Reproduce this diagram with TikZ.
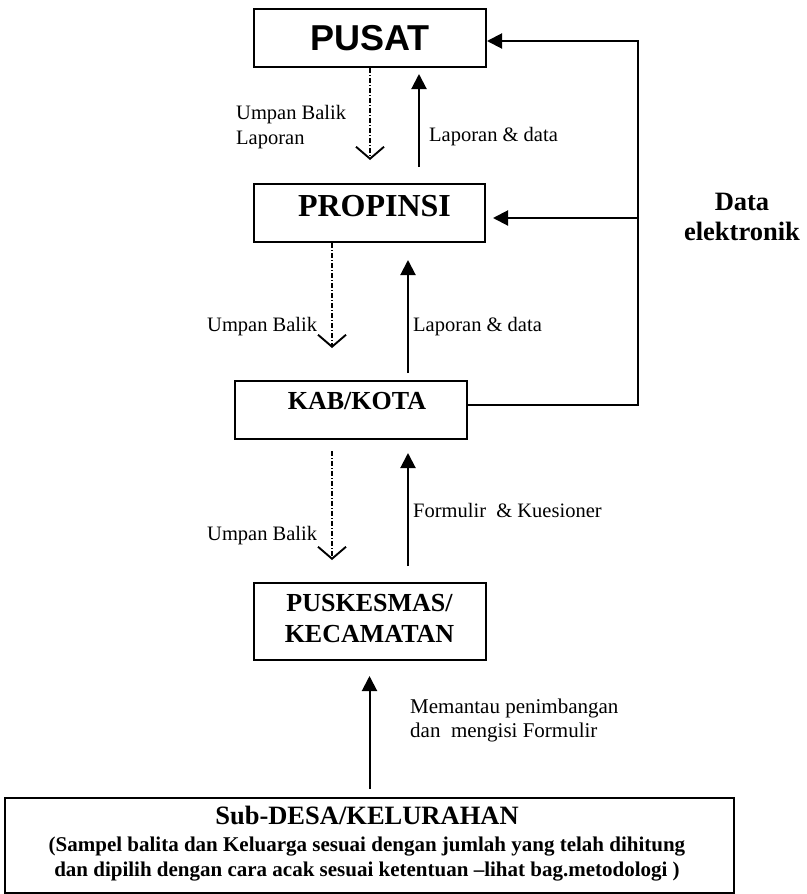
\documentclass[tikz,border=0pt]{standalone}
\usepackage{fontspec}
\setmainfont{Liberation Serif}
\newfontfamily\arialb{Liberation Sans}
\usetikzlibrary{arrows.meta}
\tikzset{
 box/.style={draw, line width=2pt, inner sep=0pt, align=center},
 btxt/.style={inner sep=0pt, align=center},
 upar/.style={line width=2pt, -{Triangle[length=15pt,width=15pt]}},
 fbar/.style={line width=1.4pt, dash pattern=on 5pt off 2pt on 1pt off 2pt, -{Straight Barb[length=12pt,width=28pt,line width=1.9pt]}},
 lab/.style={anchor=west, inner sep=0pt, font=\fontsize{20.5}{25}\selectfont, align=left},
}
\begin{document}
\begin{tikzpicture}[x=1pt,y=-1pt]
\useasboundingbox[fill=white] (0,0) rectangle (806,894);
% boxes
\node[box, minimum width=232pt, minimum height=58pt, font=\arialb\bfseries\fontsize{36}{40}\selectfont] (pusat) at (370,38) {PUSAT};
\node[box, minimum width=231pt, minimum height=58pt] (prop) at (369.5,213) {};
\node[btxt, font=\bfseries\fontsize{32}{36}\selectfont] (propt) at (374.5,206) {PROPINSI};
\node[box, minimum width=232pt, minimum height=58pt] (kab) at (351,410) {};
\node[btxt, font=\bfseries\fontsize{26}{30}\selectfont] (kabt) at (357,401.5) {KAB/KOTA};
\node[box, minimum width=232pt, minimum height=77pt] (pusk) at (370,621.5) {};
\node[btxt, font=\bfseries\fontsize{26}{31}\selectfont] (puskt) at (369.5,618.5) {PUSKESMAS/\\KECAMATAN};
\node[box, minimum width=729pt, minimum height=95pt] (desa) at (369.5,845.5) {};
\node[btxt, font=\bfseries\fontsize{21}{25}\selectfont] (desat) at (367,844) {{\fontsize{26.5}{30}\selectfont Sub-DESA/KELURAHAN}\\[2pt]
 (Sampel balita dan Keluarga sesuai dengan jumlah yang telah dihitung\\
 dan dipilih dengan cara acak sesuai ketentuan –lihat bag.metodologi )};
% right side data line
\coordinate (rtop) at (638,41);
\coordinate (rmid) at (638,218);
\coordinate (rbot) at (638,405);
\draw[upar] ([yshift=5pt]kab.east) -- (rbot) -- (rtop) -- ([yshift=-3pt]pusat.east);
\draw[upar, shorten >=7pt] (rmid) -- (rmid -| prop.east);
\node[btxt, font=\bfseries\fontsize{26.5}{30}\selectfont] (data) at (742,217) {Data\\elektronik};
% PUSAT <-> PROPINSI
\draw[fbar, shorten >=23pt] (pusat.south) -- (pusat.south |- prop.north);
\draw[upar, shorten <=16pt, shorten >=6pt] ([xshift=49.5pt]prop.north) -- ([xshift=49.5pt]prop.north |- pusat.south);
\node[lab] (l1) at (236,127.5) {Umpan Balik\\Laporan};
\node[lab] (l2) at (429,137) {Laporan \& data};
% PROPINSI <-> KAB
\draw[fbar, shorten >=32pt] ([xshift=-37.5pt]prop.south) -- ([xshift=-37.5pt]prop.south |- kab.north);
\draw[upar, shorten <=7pt, shorten >=17pt] ([xshift=57pt]kab.north) -- ([xshift=57pt]kab.north |- prop.south);
\node[lab] (l3) at (207,327) {Umpan Balik};
\node[lab] (l4) at (413,327) {Laporan \& data};
% KAB <-> PUSKESMAS
\draw[fbar, shorten <=11pt, shorten >=22pt] ([xshift=-19pt]kab.south) -- ([xshift=-19pt]kab.south |- pusk.north);
\draw[upar, shorten <=16pt, shorten >=13pt] ([xshift=38pt]pusk.north) -- ([xshift=38pt]pusk.north |- kab.south);
\node[lab] (l5) at (413,510) {Formulir~ \& Kuesioner};
\node[lab] (l6) at (207,536) {Umpan Balik};
% DESA -> PUSKESMAS
\draw[upar, shorten <=8pt, shorten >=15pt] (desa.north) -- (desa.north |- pusk.south);
\node[lab, font=\fontsize{21}{24}\selectfont] (l7) at (410,720) {Memantau penimbangan\\dan~ mengisi Formulir};
\end{tikzpicture}
\end{document}
